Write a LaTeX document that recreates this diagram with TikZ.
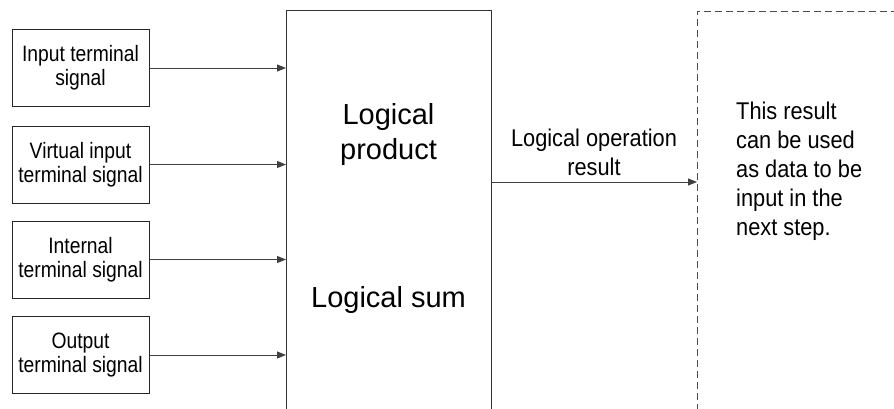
\documentclass[tikz,border=0pt]{standalone}
\usepackage{fontspec}
\setmainfont{Liberation Sans}
% narrowed faces for the smaller labels
\newfontfamily\boxface[FakeStretch=0.865]{Liberation Sans}
\newfontfamily\noteface[FakeStretch=0.9]{Liberation Sans}
\usetikzlibrary{arrows.meta}
\begin{document}
\begin{tikzpicture}[x=1pt,y=-1pt,
  sigbox/.style={draw=black!85, line width=1pt, minimum width=137pt, minimum height=77pt,
    inner sep=0pt, align=center, font=\boxface\fontsize{22.3}{24}\selectfont},
  feed/.style={draw=black!75, line width=1pt, -{Triangle[length=9pt,width=7pt]}},
  frame/.style={draw=black!80, line width=1pt},
  dashframe/.style={draw=black!70, line width=0.9pt, dash pattern=on 7pt off 4pt},
  bigtext/.style={align=center, font=\fontsize{29}{35}\selectfont},
  midtext/.style={font=\noteface\fontsize{24.2}{29}\selectfont},
]
\useasboundingbox (0,0) rectangle (894,408);

% input signal boxes
\node[sigbox] (in1) at (80.5,68)  {Input terminal\\signal};
\node[sigbox] (in2) at (80.5,164.5) {Virtual input\\terminal signal};
\node[sigbox] (in3) at (80.5,259.5) {Internal\\terminal signal};
\node[sigbox] (in4) at (80.5,355) {Output\\terminal signal};

% logic block, open at the bottom
\node[minimum width=205pt, minimum height=400pt, inner sep=0pt, anchor=north west] (logic) at (286,10) {};
\draw[frame] (logic.south west) -- (logic.north west) -- (logic.north east) -- (logic.south east);
\node[bigtext] (prod) at (388.5,134.5) {Logical\\product};
\node[bigtext] (sum) at (388.5,300) {Logical sum};

% result area, dashed and open to the right and bottom
\node[minimum width=210pt, minimum height=400pt, inner sep=0pt, anchor=north west] (next) at (697,11) {};
\draw[dashframe] (next.south west) -- (next.north west) -- (next.north east);
\node[midtext, align=left, anchor=north west, inner sep=0pt] (note) at (736,102)
  {This result\\can be used\\as data to be\\input in the\\next step.};

% connectors
\foreach \n in {in1,in2,in3,in4}
  \draw[feed] (\n.east) -- (\n.east -| logic.west);
\coordinate (res) at (697,182);
\draw[feed] (logic.east |- res) -- (res);
\node[midtext, align=center] (oplabel) at (594,152) {Logical operation\\result};
\end{tikzpicture}
\end{document}
